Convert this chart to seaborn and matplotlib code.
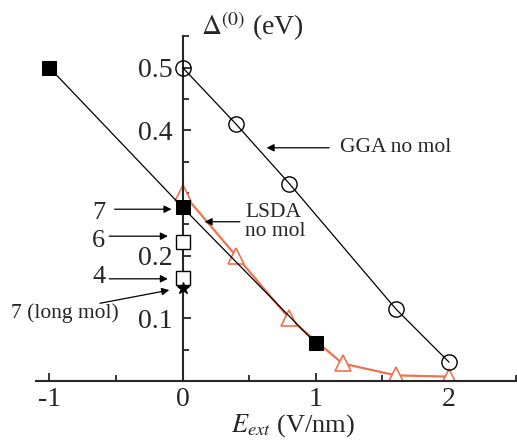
import matplotlib
matplotlib.use("Agg")
import matplotlib.pyplot as plt
import numpy as np
import seaborn as sns

# LSDA with molecule (filled squares)
lsda_x = [-1.0, 0.0, 1.0]
lsda_y = [0.50, 0.277, 0.06]

# GGA no mol (open circles)
gga_x = [0.0, 0.4, 0.8, 1.6, 2.0]
gga_y = [0.50, 0.41, 0.315, 0.115, 0.03]

# LSDA no mol (orange triangles)
nomol_x = [0.0, 0.4, 0.8, 1.2, 1.6, 2.0]
nomol_y = [0.30, 0.20, 0.10, 0.028, 0.009, 0.007]

# other molecules at zero field (open squares) and long molecule (star)
open_x = [0.0, 0.0]
open_y = [0.222, 0.165]
long_x = [0.0]
long_y = [0.148]

orange = "#f0714f"

sns.set_style("ticks")
plt.rcParams["font.family"] = ["Liberation Serif", "DejaVu Serif"]
plt.rcParams["mathtext.fontset"] = "stix"

fig = plt.figure(figsize=(5.17, 4.41), dpi=100)
ax = fig.add_axes([0.0696, 0.136, 0.928, 0.782])

sns.lineplot(x=nomol_x, y=nomol_y, color=orange, lw=1.6, marker="^", markersize=12,
             markerfacecolor="white", markeredgecolor=orange, markeredgewidth=1.2, ax=ax, zorder=2)
sns.lineplot(x=lsda_x, y=lsda_y, color="black", lw=0.9, marker="s", markersize=10,
             markerfacecolor="black", markeredgecolor="black", ax=ax, zorder=3)
sns.lineplot(x=gga_x, y=gga_y, color="black", lw=0.9, marker="o", markersize=11,
             markerfacecolor="none", markeredgecolor="black", markeredgewidth=1.0, ax=ax, zorder=3)
ax.plot(open_x, open_y, ls="none", marker="s", markersize=10, markerfacecolor="white",
        markeredgecolor="black", markeredgewidth=1.0, zorder=4)
ax.plot(long_x, long_y, ls="none", marker="*", markersize=9, color="black", zorder=4)

ax.set_xlim(-1.1, 2.5)
ax.set_ylim(0, 0.55)
ax.spines["left"].set_position(("data", 0))
ax.spines["bottom"].set_position(("data", 0))
ax.spines["top"].set_visible(False)
ax.spines["right"].set_visible(False)
for s in ["left", "bottom"]:
    ax.spines[s].set_linewidth(1.5)

ax.set_xticks([-1, 0, 1, 2])
ax.set_xticklabels(["-1", "0", "1", "2"])
ax.set_xticks(np.arange(-1, 2.51, 0.5), minor=True)
ax.set_yticks([0.1, 0.2, 0.4, 0.5])
ax.set_yticklabels(["0.1", "0.2", "0.4", "0.5"])
ax.set_yticks(np.arange(0.05, 0.56, 0.05), minor=True)
ax.tick_params(which="both", direction="in", width=1.3, labelsize=20)
ax.tick_params(which="major", length=6)
ax.tick_params(which="minor", length=4)
ax.tick_params(axis="y", pad=7)
ax.tick_params(axis="x", pad=4)

# annotations
arrow = dict(arrowstyle="-|>", color="black", lw=0.9, mutation_scale=11, shrinkA=0, shrinkB=0)
ax.text(-0.63, 0.268, "7", fontsize=19, ha="center", va="center")
ax.annotate("", xy=(-0.083, 0.274), xytext=(-0.51, 0.274), arrowprops=arrow)
ax.text(-0.63, 0.223, "6", fontsize=19, ha="center", va="center")
ax.annotate("", xy=(-0.11, 0.231), xytext=(-0.55, 0.231), arrowprops=arrow)
ax.text(-0.63, 0.166, "4", fontsize=19, ha="center", va="center")
ax.annotate("", xy=(-0.11, 0.163), xytext=(-0.55, 0.163), arrowprops=arrow)
ax.text(-0.885, 0.108, "7 (long mol)", fontsize=15.5, ha="center", va="center")
ax.annotate("", xy=(-0.1, 0.145), xytext=(-0.62, 0.124), arrowprops=arrow)
ax.text(0.47, 0.254, "LSDA\nno mol", fontsize=15.5, ha="left", va="center", linespacing=1.0)
ax.annotate("", xy=(0.165, 0.254), xytext=(0.43, 0.254), arrowprops=arrow)
ax.text(1.18, 0.372, "GGA no mol", fontsize=15.5, ha="left", va="center")
ax.annotate("", xy=(0.63, 0.372), xytext=(1.10, 0.372), arrowprops=arrow)

ax.text(0.14, 0.565, r"$\Delta^{(0)}$ (eV)", fontsize=20, ha="left", va="center", clip_on=False)
fig.text(293 / 517, 1 - 426 / 441, r"$E_{ext}$ (V/nm)", fontsize=19, ha="center", va="center")

fig.savefig("out.png", dpi=100)
